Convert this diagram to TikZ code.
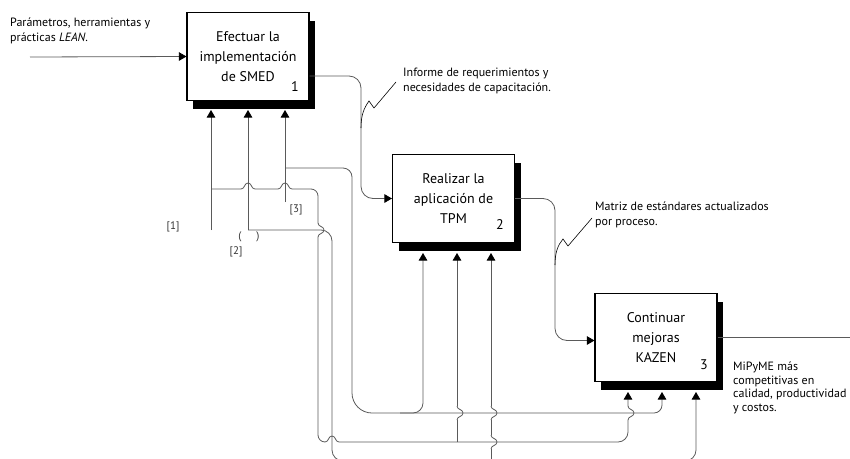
\documentclass[tikz,border=0pt]{standalone}
\usepackage{fontspec}
\setmainfont{PT Sans}
\usetikzlibrary{arrows.meta}
\definecolor{wiregray}{RGB}{90,90,90}
% line hops: a bump over a crossing line, horizontal (up) and vertical (right)
\newcommand{\hopx}[2]{({#1-7},#2) .. controls ({#1-3},#2) and ({#1-4},{#2-6}) .. (#1,{#2-6}) .. controls ({#1+4},{#2-6}) and ({#1+3},#2) .. ({#1+7},#2)}
\newcommand{\hopy}[2]{(#1,{#2-7}) .. controls (#1,{#2-3}) and ({#1+6},{#2-4}) .. ({#1+6},#2) .. controls ({#1+6},{#2+4}) and (#1,{#2+3}) .. (#1,{#2+7})}
\tikzset{
  funcbox/.style={draw=black, line width=1.1pt, fill=white, minimum width=122pt, minimum height=88pt,
    align=center, inner sep=0pt, font=\fontsize{14}{20}\selectfont,
    preaction={fill=black, transform canvas={xshift=6pt, yshift=-8pt}}},
  boxnum/.style={font=\fontsize{14}{16}\selectfont, inner sep=0pt},
  wire/.style={draw=wiregray, line width=0.8pt},
  arr/.style={wire, -{Triangle[length=7.5pt, width=8.5pt, color=black]}},
  note/.style={font=\fontsize{12}{15}\selectfont, align=left, anchor=west, inner sep=0pt},
  code/.style={font=\fontsize{11}{12}\selectfont, inner sep=0pt, text=black!80}
}
\begin{document}
\begin{tikzpicture}[x=1pt, y=-1pt]
  \clip (0,0) rectangle (850,458);
  % activity boxes
  \node[funcbox] (smed) at (248,56.5) {Efectuar la\\implementación\\de SMED};
  \node[funcbox] (tpm) at (453.5,198.5) {Realizar la\\aplicación de\\TPM};
  \node[funcbox] (kazen) at (656,337.5) {Continuar\\mejoras\\KAZEN};
  \node[boxnum] (n1) at (295,87) {1};
  \node[boxnum] (n2) at (500,225) {2};
  \node[boxnum] (n3) at (704,365) {3};

  % arrow tips under the boxes
  \coordinate (t11) at (211,110);
  \coordinate (t12) at (248,110);
  \coordinate (t13) at (285,110);
  \coordinate (t21) at (423,253);
  \coordinate (t22) at (457,253);
  \coordinate (t23) at (491,253);
  \coordinate (t31) at (628,392);
  \coordinate (t32) at (662,392);
  \coordinate (t33) at (696,392);
  \coordinate (s1) at (211,230);
  \coordinate (s2) at (248,230);
  \coordinate (s3) at (285,202);
  \coordinate (in1) at (30,57);
  \coordinate (out3) at (850,337.5);

  % texts
  \node[note] (lean) at (10,30.5) {Parámetros, herramientas y\\prácticas \textit{LEAN}.};
  \node[note] (inf) at (403,80.5) {Informe de requerimientos y\\necesidades de capacitación.};
  \node[note] (mat) at (595,214.5) {Matriz de estándares actualizados\\por proceso.};
  \node[note, font=\fontsize{12}{13.5}\selectfont] (mipyme) at (733,388) {MiPyME más\\competitivas en\\calidad, productividad\\y costos.};
  \node[code] (k1) at (173,227) {[1]};
  \node[code] (k2) at (236,252) {[2]};
  \node[code] (k3) at (296,210) {[3]};
  \node[code] (pl) at (240,237) {(};
  \node[code] (pr) at (258,237) {)};

  % inputs and outputs
  \draw[arr] (in1) -- (smed.west);
  \draw[arr, rounded corners=12] ([yshift=-19.5pt]smed.east) -- (361,76) -- (361,198.5) -- (tpm.west);
  \draw[arr, rounded corners=12] (tpm.east) -- (555,198.5) -- (555,340.5) -- ([yshift=-3pt]kazen.west);
  \draw[wire] (kazen.east) -- (out3);
  \draw[line width=0.6pt] (361,128) .. controls (361,115) and (364,108) .. (369,101) -- (374,108) -- (396,82);
  \draw[line width=0.6pt] (555,265) .. controls (555,252) and (558,245) .. (563,239) -- (568,246) -- (592,218);

  % mechanisms
  \draw[arr] (s1) -- (t11);
  \draw[arr] (s2) -- (t12);
  \draw[arr] (s3) -- (t13);
  \draw[arr, rounded corners=7] (211,189) -- (241,189) (255,189) -- (278,189) (292,189) -- (318,189) -- (318,223)
    (318,237) -- (318,442) -- (325,442) (339,442) [rounded corners=10] -- (628,442) -- (628,420) (628,406) -- (t31);
  \draw[arr, rounded corners=11] (s2) -- (332,230) -- (332,461) -- (696,461) -- (t33);
  \draw[arr, rounded corners=9] (285,168) -- (352,168) [rounded corners=20] -- (352,413) [rounded corners=8] -- (662,413) -- (t32);
  \draw[arr, rounded corners=10] (400,413) -- (423,413) -- (t21);
  \draw[arr] (457,442) -- (457,420) (457,406) -- (t22);
  \draw[arr] (491,461) -- (491,449) (491,435) -- (491,420) (491,406) -- (t23);
  % hops
  \foreach \x/\y in {248/189, 285/189, 332/442}
    \draw[wire] \hopx{\x}{\y};
  \foreach \x/\y in {318/230, 457/413, 491/413, 491/442, 628/413}
    \draw[wire] \hopy{\x}{\y};
\end{tikzpicture}
\end{document}
